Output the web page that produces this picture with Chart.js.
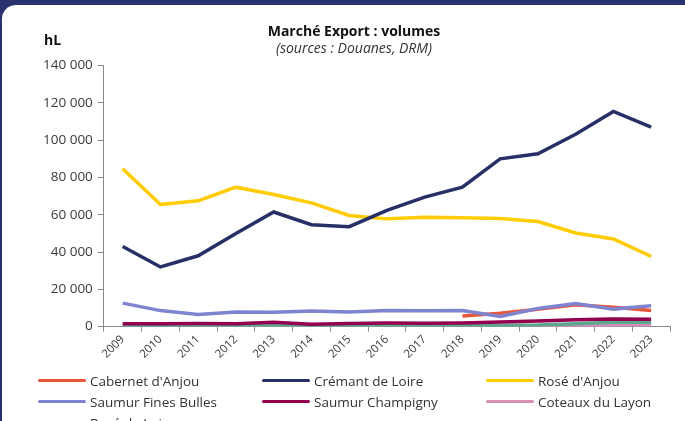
<!DOCTYPE html>
<html>
<head>
<meta charset="utf-8">
<script src="https://cdn.jsdelivr.net/npm/chart.js@4/dist/chart.umd.min.js"></script>
<style>
html, body { margin: 0; padding: 0; }
body { width: 685px; height: 421px; background: #2b3270; overflow: hidden; position: relative; font-family: 'Open Sans', sans-serif; }
#card { position: absolute; left: 2px; top: 5px; right: 0; bottom: 0; background: #fff; border-top-left-radius: 14px; overflow: hidden; }
#wrap { position: absolute; left: -2px; top: -5px; width: 685px; height: 372px; }
#unit { position: absolute; left: 42px; top: 25px; font-weight: 700; font-size: 14px; color: #111; }
#legend { position: absolute; left: 36px; top: 366px; width: 680px; display: grid; grid-template-columns: 224px 224px 224px; row-gap: 2px; }
.item { display: flex; align-items: center; height: 19px; font-size: 13.5px; color: #333; white-space: nowrap; }
.swatch { width: 48px; height: 3.5px; border-radius: 2px; margin-right: 4px; }
</style>
</head>
<body>
<div id="card">
  <div id="wrap"><canvas id="exportChart"></canvas></div>
  <div id="unit">hL</div>
  <div id="legend"></div>
</div>
<script>
const years = ['2009', '2010', '2011', '2012', '2013', '2014', '2015', '2016', '2017', '2018', '2019', '2020', '2021', '2022', '2023'];
const yTicks = [0, 20000, 40000, 60000, 80000, 100000, 120000, 140000];

const cabernetAnjou = [null, null, null, null, null, null, null, null, null, 5700, 7200, 9300, 11700, 10400, 8600];
const cremantLoire = [43000, 32000, 38000, 49900, 61500, 54700, 53600, 62400, 69500, 74800, 90000, 92700, 103200, 115400, 107000];
const roseAnjou = [84700, 65500, 67500, 74800, 70900, 66400, 59600, 57800, 58700, 58400, 58000, 56400, 50200, 47000, 37700];
const saumurFinesBulles = [12600, 8600, 6500, 7900, 7700, 8400, 7900, 8600, 8500, 8700, 5400, 9700, 12400, 9400, 11200];
const saumurChampigny = [1500, 1600, 1700, 1600, 2300, 1300, 1700, 1900, 1800, 2000, 2500, 3000, 3700, 4100, 4000];
const coteauxLayon = [200, 200, 200, 200, 200, 200, 200, 200, 200, 300, 400, 400, 500, 900, 900];
const roseLoire = [500, 400, 500, 400, 600, 300, 500, 500, 400, 700, 800, 900, 1500, 2400, 2300];

const series = [
  { label: "Cabernet d'Anjou", data: cabernetAnjou, color: '#e8573a', order: 4 },
  { label: 'Crémant de Loire', data: cremantLoire, color: '#262f66', order: 1 },
  { label: "Rosé d'Anjou", data: roseAnjou, color: '#ffcc00', order: 2 },
  { label: 'Saumur Fines Bulles', data: saumurFinesBulles, color: '#7e84d0', order: 3 },
  { label: 'Saumur Champigny', data: saumurChampigny, color: '#93004e', order: 5 },
  { label: 'Coteaux du Layon', data: coteauxLayon, color: '#d690b8', order: 7 },
  { label: 'Rosé de Loire', data: roseLoire, color: '#5ba88c', order: 6 }
];

const axisColor = '#8a8a8a';
const tickColor = '#3a3a3a';

new Chart(document.getElementById('exportChart'), {
  type: 'line',
  data: {
    labels: years,
    datasets: series.map(s => ({
      label: s.label,
      data: s.data,
      borderColor: s.color,
      backgroundColor: s.color,
      borderWidth: 3.5,
      pointRadius: 0,
      tension: 0,
      order: s.order,
      spanGaps: false
    }))
  },
  options: {
    responsive: true,
    maintainAspectRatio: false,
    animation: false,
    layout: { padding: { left: 38, right: 15, top: 0, bottom: 10 } },
    plugins: {
      legend: { display: false },
      tooltip: { enabled: false },
      title: {
        display: true,
        text: 'Marché Export : volumes',
        color: '#111',
        font: { family: "'Open Sans', sans-serif", size: 14, weight: 'bold' },
        padding: { top: 24, bottom: 0 }
      },
      subtitle: {
        display: true,
        text: '(sources : Douanes, DRM)',
        color: '#333',
        font: { family: "'Open Sans', sans-serif", size: 14, style: 'italic' },
        padding: { top: 0, bottom: 8 }
      }
    },
    scales: {
      x: {
        offset: true,
        grid: { offset: true, drawOnChartArea: false, tickLength: 5, color: axisColor },
        border: { color: axisColor },
        ticks: {
          color: tickColor,
          maxRotation: 45,
          minRotation: 45,
          padding: 1,
          font: { family: "'Open Sans', sans-serif", size: 11.5 }
        }
      },
      y: {
        min: 0,
        max: 140000,
        afterBuildTicks: axis => { axis.ticks = yTicks.map(v => ({ value: v })); },
        grid: { drawOnChartArea: false, tickLength: 6, color: axisColor },
        border: { color: axisColor },
        ticks: {
          color: tickColor,
          padding: 5,
          font: { family: "'Open Sans', sans-serif", size: 13.5 },
          callback: v => String(v).replace(/\B(?=(\d{3})+(?!\d))/g, ' ')
        }
      }
    }
  }
});

const legendEl = document.getElementById('legend');
series.forEach(s => {
  const item = document.createElement('div');
  item.className = 'item';
  const sw = document.createElement('span');
  sw.className = 'swatch';
  sw.style.background = s.color;
  const txt = document.createElement('span');
  txt.textContent = s.label;
  item.appendChild(sw);
  item.appendChild(txt);
  legendEl.appendChild(item);
});
</script>
</body>
</html>
